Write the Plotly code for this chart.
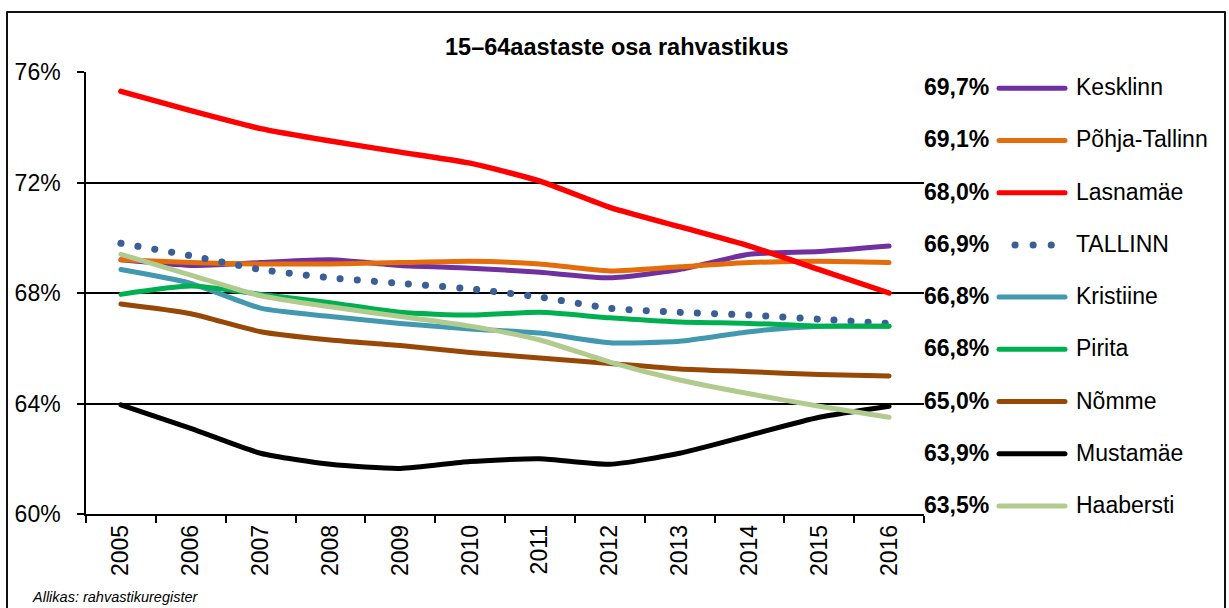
import plotly.graph_objects as go

W, H = 1229, 608

# ---------------- data ----------------
years = ["2005", "2006", "2007", "2008", "2009", "2010", "2011", "2012", "2013", "2014", "2015", "2016"]

series_names = ["Kesklinn", "Põhja-Tallinn", "Lasnamäe", "TALLINN", "Kristiine",
                "Pirita", "Nõmme", "Mustamäe", "Haabersti"]

kesklinn = [69.2, 69.0, 69.1, 69.2, 69.0, 68.9, 68.75, 68.55, 68.85, 69.4, 69.5, 69.7]
pohja_tallinn = [69.2, 69.1, 69.05, 69.05, 69.1, 69.15, 69.05, 68.8, 68.95, 69.1, 69.15, 69.1]
lasnamae = [75.3, 74.6, 73.95, 73.5, 73.1, 72.7, 72.05, 71.1, 70.4, 69.7, 68.85, 68.0]
tallinn = [69.8, 69.35, 68.85, 68.55, 68.35, 68.15, 67.85, 67.45, 67.3, 67.2, 67.05, 66.9]
kristiine = [68.85, 68.35, 67.45, 67.15, 66.9, 66.7, 66.55, 66.2, 66.25, 66.6, 66.8, 66.8]
pirita = [67.95, 68.25, 67.95, 67.65, 67.3, 67.2, 67.3, 67.1, 66.95, 66.9, 66.8, 66.8]
nomme = [67.6, 67.25, 66.6, 66.3, 66.1, 65.85, 65.65, 65.45, 65.25, 65.15, 65.05, 65.0]
mustamae = [63.95, 63.1, 62.2, 61.8, 61.65, 61.9, 62.0, 61.8, 62.2, 62.85, 63.5, 63.9]
haabersti = [69.4, 68.65, 67.9, 67.5, 67.15, 66.8, 66.3, 65.5, 64.85, 64.35, 63.9, 63.5]

series_values = [kesklinn, pohja_tallinn, lasnamae, tallinn, kristiine,
                 pirita, nomme, mustamae, haabersti]

y_ticks = [60, 64, 68, 72, 76]
y_tick_labels = ["60%", "64%", "68%", "72%", "76%"]

title_text = "15–64aastaste osa rahvastikus"
source_text = "Allikas: rahvastikuregister"

# ---------------- styles ----------------
colors = ["#7030A0", "#E46C0A", "#FF0000", "#3A5F97", "#4198AF",
          "#00B050", "#974806", "#000000", "#B1CB8E"]
dashes = ["solid", "solid", "solid", "0.1px,17px", "solid",
          "solid", "solid", "solid", "solid"]
widths = [5, 5, 5.5, 7, 5, 5, 5, 5, 5]

FONT = "Liberation Sans, Arial, sans-serif"


def px(x):
    return x / W


def py(y):
    return 1 - y / H


# plot area in pixels
PL, PR, PT, PB = 86, 924, 72, 514

fig = go.Figure()
for name, vals, c, d, w in zip(series_names, series_values, colors, dashes, widths):
    fig.add_trace(go.Scatter(
        x=years, y=vals, name=name, mode="lines",
        line=dict(color=c, width=w, dash=d, shape="spline", smoothing=0.6),
        showlegend=False, hoverinfo="x+y+name",
    ))

shapes = []
annotations = []

# outer frame
shapes.append(dict(type="rect", xref="paper", yref="paper",
                   x0=px(7), x1=px(1225), y0=py(640), y1=py(12),
                   line=dict(color="#111111", width=2), fillcolor="rgba(0,0,0,0)", layer="above"))

# custom legend
row0, row_step = 88.3, 52.2
for i, (name, vals, c, d) in enumerate(zip(series_names, series_values, colors, dashes)):
    ry = row0 + i * row_step
    label = f"{vals[-1]:.1f}".replace(".", ",") + "%"
    annotations.append(dict(xref="paper", yref="paper", x=px(991), y=py(ry - 1),
                            text=f"<b>{label}</b>", showarrow=False,
                            xanchor="right", yanchor="middle",
                            font=dict(family=FONT, size=23, color="black")))
    if d == "solid":
        shapes.append(dict(type="line", xref="paper", yref="paper",
                           x0=px(999), x1=px(1065), y0=py(ry), y1=py(ry),
                           line=dict(color=c, width=5)))
    else:
        shapes.append(dict(type="line", xref="paper", yref="paper",
                           x0=px(1015), x1=px(1052), y0=py(ry), y1=py(ry),
                           line=dict(color=c, width=7, dash="0.1px,18px")))
    annotations.append(dict(xref="paper", yref="paper", x=px(1074), y=py(ry - 1),
                            text=name, showarrow=False,
                            xanchor="left", yanchor="middle",
                            font=dict(family=FONT, size=23, color="black")))

# title
annotations.append(dict(xref="paper", yref="paper", x=px(617), y=py(47),
                        text=f"<b>{title_text}</b>", showarrow=False,
                        xanchor="center", yanchor="middle",
                        font=dict(family=FONT, size=23.5, color="black")))
# source
annotations.append(dict(xref="paper", yref="paper", x=px(30), y=py(597),
                        text=f"<i>{source_text}</i>", showarrow=False,
                        xanchor="left", yanchor="middle",
                        font=dict(family=FONT, size=14.5, color="black")))

fig.update_layout(
    width=W, height=H,
    margin=dict(l=0, r=0, t=0, b=0, pad=0, autoexpand=False),
    paper_bgcolor="white", plot_bgcolor="white",
    shapes=shapes, annotations=annotations,
    xaxis=dict(
        domain=[px(PL), px(PR)], type="category",
        tickmode="array", tickvals=years, ticktext=years,
        tickson="boundaries", ticks="outside", ticklen=7, tickwidth=1.5, tickcolor="black",
        tickangle=-90, showgrid=False, zeroline=False,
        showline=True, linecolor="black", linewidth=1.5,
        tickfont=dict(family=FONT, size=23, color="black"),
        range=[-0.5, 11.5], fixedrange=True, automargin=False,
    ),
    yaxis=dict(
        domain=[py(PB), py(PT)], range=[60, 76],
        tickmode="array", tickvals=y_ticks, ticktext=y_tick_labels,
        ticks="outside", ticklen=7, tickwidth=1.5, tickcolor="black",
        showgrid=True, gridcolor="black", gridwidth=1.5, zeroline=False,
        showline=True, linecolor="black", linewidth=1.5,
        tickfont=dict(family=FONT, size=23, color="black"),
        ticklabelstandoff=12, fixedrange=True, automargin=False,
    ),
    hovermode="closest",
)

post_js = """
document.body.style.margin = '0';
document.body.style.overflow = 'hidden';
var gd = document.getElementById('{plot_id}');
function fixCaps(){
  gd.querySelectorAll('.scatterlayer path.js-line, .shapelayer path').forEach(function(p){
    p.style.strokeLinecap = 'round';
    p.style.strokeLinejoin = 'round';
  });
}
fixCaps();
gd.on('plotly_afterplot', fixCaps);
"""

fig.write_html("out.html", post_script=post_js, config={"displayModeBar": False})
